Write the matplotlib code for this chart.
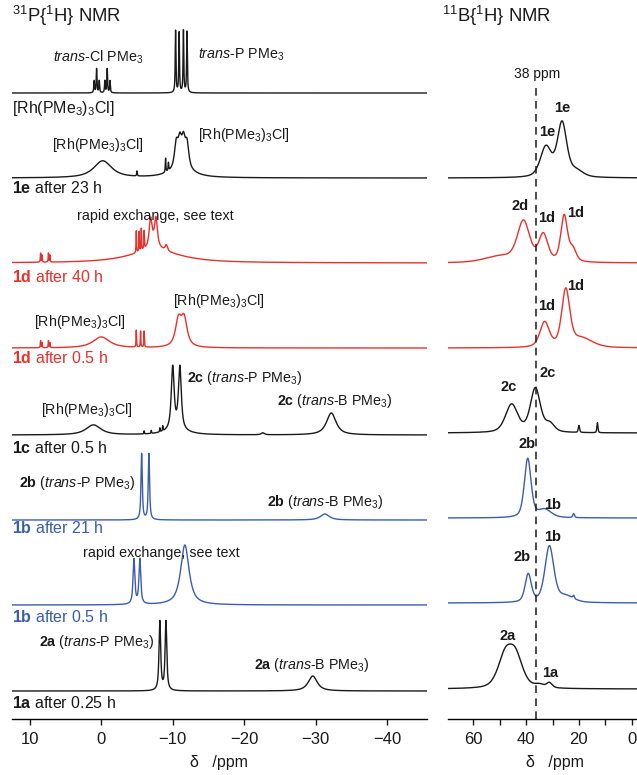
"""Stacked 31P{1H} and 11B{1H} NMR spectra of the Rh/boryl reaction series."""
import matplotlib

matplotlib.use("Agg")
import matplotlib.pyplot as plt
import numpy as np

plt.rcParams["font.family"] = ["Liberation Sans", "DejaVu Sans"]
plt.rcParams["mathtext.fontset"] = "custom"
plt.rcParams["mathtext.rm"] = "Liberation Sans"
plt.rcParams["mathtext.it"] = "Liberation Sans:italic"
plt.rcParams["mathtext.bf"] = "Liberation Sans:bold"

BLACK = "#1a1a1a"
RED = "#e8312b"
BLUE = "#3a5db0"

# peak lists: (shift / ppm, height / a.u., fwhm / ppm)
# 31P{1H}
p_rh = [(1.0, 12, 0.12), (0.66, 24, 0.12), (0.29, 12, 0.12),
        (-0.5, 12, 0.12), (-0.83, 24, 0.12), (-1.22, 12, 0.12),
        (-10.4, 62, 0.12), (-10.9, 60, 0.12), (-11.5, 62, 0.12), (-12.0, 61, 0.12)]
p_1e = [(-0.2, 17, 3.0), (-5.0, 5, 0.1), (-9.0, 14, 0.1), (-9.4, 8, 0.1),
        (-10.5, 24, 0.6), (-11.0, 24, 0.6), (-11.5, 25, 0.6), (-12.0, 24, 0.6),
        (-11.2, 8, 4.0)]
p_1d40 = [(8.5, 9, 0.08), (8.3, 7, 0.08), (7.4, 9, 0.08), (7.2, 7, 0.08),
          (-7.5, 12, 9.0), (-4.9, 22, 0.08), (-5.3, 20, 0.08), (-5.6, 22, 0.08),
          (-6.0, 18, 0.08), (-6.9, 26, 0.45), (-7.65, 26, 0.45), (-7.3, 8, 1.5),
          (-9.1, 6, 0.4)]
p_1d05 = [(8.5, 7, 0.08), (8.3, 5, 0.08), (7.4, 7, 0.08), (7.2, 5, 0.08),
          (0.0, 11, 2.8), (-4.9, 17, 0.08), (-5.5, 16, 0.08), (-6.0, 16, 0.08),
          (-10.8, 26, 1.0), (-11.6, 27, 1.0)]
p_1c = [(1.1, 10, 2.5), (-6.0, 3, 0.08), (-7.0, 3, 0.08), (-8.2, 4, 0.08),
        (-8.6, 5, 0.08), (-10.0, 63, 0.48), (-11.0, 63, 0.48), (-10.5, 4, 4.0),
        (-22.6, 2, 0.5), (-32.2, 22, 1.6)]
p_1b21 = [(-5.65, 66, 0.22), (-6.67, 66, 0.22), (-31.3, 6, 1.5)]
p_1b05 = [(-4.57, 45, 0.3), (-5.4, 45, 0.3), (-11.7, 60, 1.4)]
p_1a = [(-8.2, 69, 0.28), (-9.05, 69, 0.28), (-29.6, 15, 1.5)]

# 11B{1H}
b_1e = [(32.5, 30, 5.0), (26.4, 54, 4.2), (21, 6, 6)]
b_1d40 = [(41.0, 40, 5.5), (33.5, 27, 4.0), (25.6, 46, 3.0), (22.3, 12, 3.0), (50, 6, 14)]
b_1d05 = [(33.0, 25, 4.2), (25.0, 56, 3.6), (19, 9, 10)]
b_1c = [(45.5, 28, 5.5), (36.5, 44, 4.5), (31, 8, 4), (20.0, 7, 0.6), (13.0, 10, 0.5)]
b_1b21 = [(39.4, 59, 3.0), (33, 8, 6), (22, 4, 0.8)]
b_1b05 = [(39.2, 28, 2.8), (31.2, 56, 4.0), (25, 6, 7), (22, 3, 0.7)]
b_1a = [(48.0, 30, 6.5), (44.0, 30, 6.5), (35, 3, 4), (31.2, 5, 2.5)]

P_SPECTRA = [p_rh, p_1e, p_1d40, p_1d05, p_1c, p_1b21, p_1b05, p_1a]
P_COLORS = [BLACK, BLACK, RED, RED, BLACK, BLUE, BLUE, BLACK]
B_SPECTRA = [b_1e, b_1d40, b_1d05, b_1c, b_1b21, b_1b05, b_1a]
B_COLORS = [BLACK, RED, RED, BLACK, BLUE, BLUE, BLACK]

P_TICKS = [10, 0, -10, -20, -30, -40]
B_TICKS = [60, 40, 20, 0]
B_MINOR = [50, 30, 10]
REF_PPM = 36.4  # "38 ppm" guide line

W, H = 637, 775
P_OFFSETS = [626, 541, 456, 371, 284, 199, 114, 28]
B_OFFSETS = [541, 456, 371, 286, 201, 116, 30]

LBL = 11.5   # sample labels
ANN = 10.3   # peak annotations


def lineshape(x, peaks, eta):
    y = np.zeros_like(x)
    for c, h, w in peaks:
        u = ((x - c) / (w / 2)) ** 2
        y += h * (eta / (1 + u) + (1 - eta) * np.exp(-np.log(2) * u))
    return y


def put(x, y, s, **kw):
    kw.setdefault("va", "center")
    kw.setdefault("color", BLACK)
    fig.text(x / W, 1 - y / H, s, **kw)


fig = plt.figure(figsize=(W / 100, H / 100), dpi=100)
axp = fig.add_axes([12 / W, 56 / H, 415 / W, 719 / H])
axb = fig.add_axes([448 / W, 56 / H, 189 / W, 719 / H])

xp = np.linspace(12.5, -45.6, 8000)
for pk, off, col in zip(P_SPECTRA, P_OFFSETS, P_COLORS):
    axp.plot(xp, off + lineshape(xp, pk, 0.85), color=col, lw=1.0)

xb = np.linspace(69.6, -2.0, 3000)
for pk, off, col in zip(B_SPECTRA, B_OFFSETS, B_COLORS):
    axb.plot(xb, off + lineshape(xb, pk, 0.45), color=col, lw=1.0)

axb.axvline(REF_PPM, ymin=0, ymax=(719 - 85) / 719, color=BLACK, lw=1.1,
            ls=(0, (5, 3.5)))

for ax in (axp, axb):
    ax.set_ylim(0, 719)
    ax.set_yticks([])
    for s in ("left", "top", "right"):
        ax.spines[s].set_visible(False)
    ax.spines["bottom"].set_linewidth(1.0)
    ax.tick_params(axis="x", which="both", direction="out", length=4, width=1.0,
                   labelsize=12, pad=5, colors=BLACK)

axp.set_xlim(12.5, -45.6)
axp.set_xticks(P_TICKS)
axb.set_xlim(69.6, -2.0)
axb.set_xticks(B_TICKS)
axb.set_xticks(B_MINOR, minor=True)

put(219, 762, "δ   /ppm", ha="center", fontsize=11.5)
put(555, 762, "δ   /ppm", ha="center", fontsize=11.5)

# titles
put(12, 16, r"$^{31}$P{$^{1}$H} NMR", fontsize=13.3)
put(442, 16, r"$^{11}$B{$^{1}$H} NMR", fontsize=13.3)

RH = r"[Rh(PMe$_3$)$_3$Cl]"
TP = r"($\mathit{trans}$-P PMe$_3$)"
TB = r"($\mathit{trans}$-B PMe$_3$)"

# 31P annotations
put(98, 57, r"$\mathit{trans}$-Cl PMe$_3$", ha="center", fontsize=ANN)
put(241, 55, r"$\mathit{trans}$-P PMe$_3$", ha="center", fontsize=ANN)
put(12, 109, RH, fontsize=LBL)
put(98, 145, RH, ha="center", fontsize=ANN)
put(244, 135, RH, ha="center", fontsize=ANN)
put(12, 188, r"$\mathbf{1e}$ after 23 h", fontsize=LBL)
put(155, 216, "rapid exchange, see text", ha="center", fontsize=ANN)
put(12, 277, r"$\mathbf{1d}$ after 40 h", fontsize=LBL, color=RED)
put(219, 301, RH, ha="center", fontsize=ANN)
put(80, 322, RH, ha="center", fontsize=ANN)
put(12, 358, r"$\mathbf{1d}$ after 0.5 h", fontsize=LBL, color=RED)
put(187, 378, r"$\mathbf{2c}$ " + TP, fontsize=ANN)
put(87, 410, RH, ha="center", fontsize=ANN)
put(335, 401, r"$\mathbf{2c}$ " + TB, ha="center", fontsize=ANN)
put(12, 448, r"$\mathbf{1c}$ after 0.5 h", fontsize=LBL)
put(77, 483, r"$\mathbf{2b}$ " + TP, ha="center", fontsize=ANN)
put(325, 502, r"$\mathbf{2b}$ " + TB, ha="center", fontsize=ANN)
put(12, 528, r"$\mathbf{1b}$ after 21 h", fontsize=LBL, color=BLUE)
put(161, 553, "rapid exchange, see text", ha="center", fontsize=ANN)
put(12, 617, r"$\mathbf{1b}$ after 0.5 h", fontsize=LBL, color=BLUE)
put(97, 642, r"$\mathbf{2a}$ " + TP, ha="center", fontsize=ANN)
put(312, 665, r"$\mathbf{2a}$ " + TB, ha="center", fontsize=ANN)
put(12, 703, r"$\mathbf{1a}$ after 0.25 h", fontsize=LBL)

# 11B annotations
put(537, 74, "38 ppm", ha="center", fontsize=10)
for x, y, s in [(562, 108, "1e"), (547, 132, "1e"), (520, 206, "2d"), (547, 218, "1d"),
                (576, 213, "1d"), (576, 286, "1d"), (547, 306, "1d"), (548, 373, "2c"),
                (509, 387, "2c"), (527, 444, "2b"), (553, 505, "1b"), (522, 557, "2b"),
                (553, 537, "1b"), (508, 636, "2a"), (550, 673, "1a")]:
    put(x, y, s, ha="center", fontsize=10.5, fontweight="bold")

fig.savefig("out.png", dpi=100)
